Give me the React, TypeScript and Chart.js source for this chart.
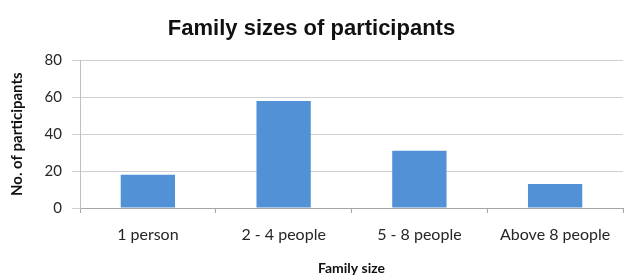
import React, { useEffect, useRef } from "react";
import { Chart, registerables } from "chart.js";

Chart.register(...registerables);

const categories = ["1 person", "2 - 4 people", "5 - 8 people", "Above 8 people"];
const participants = [18, 58, 31, 13];
const yTicks = [0, 20, 40, 60, 80];

const FONT = "Lato, 'Noto Sans', sans-serif";

export default function App() {
  const ref = useRef<HTMLCanvasElement | null>(null);
  useEffect(() => {
    document.body.style.margin = "0";
    const ctx = ref.current!;
    const chart = new Chart(ctx, {
      type: "bar",
      data: {
        labels: categories,
        datasets: [
          {
            label: "Participants",
            data: participants,
            backgroundColor: "#5291d5",
            borderWidth: 0,
            categoryPercentage: 1,
            barPercentage: 0.4,
          },
        ],
      },
      options: {
        animation: false,
        responsive: false,
        maintainAspectRatio: false,
        layout: { padding: { left: 0, right: 1, top: 0, bottom: 0 } },
        plugins: {
          legend: { display: false },
          tooltip: { enabled: false },
          title: {
            display: true,
            text: "Family sizes of participants",
            color: "#111111",
            font: { family: "'Liberation Sans', Arial, sans-serif", size: 22, weight: "bold" },
            padding: { top: 16, bottom: 18 },
          },
        },
        scales: {
          x: {
            grid: {
              display: true,
              drawOnChartArea: false,
              drawTicks: true,
              tickLength: 5,
              color: "#a6a6a6",
              offset: true,
            },
            border: { display: true, color: "#a6a6a6" },
            ticks: {
              color: "#262626",
              font: { family: FONT, size: 16 },
              padding: 12,
              maxRotation: 0,
              autoSkip: false,
            },
            title: {
              display: true,
              text: "Family size",
              color: "#111111",
              font: { family: FONT, size: 14, weight: "bold" },
              padding: { top: 0, bottom: 1 },
            },
            afterFit: (s: any) => {
              s.height = 70;
            },
          },
          y: {
            min: 0,
            max: 80,
            afterBuildTicks: (s: any) => {
              s.ticks = yTicks.map((v) => ({ value: v }));
            },
            grid: {
              color: "#d0d0d0",
              tickLength: 8,
              lineWidth: 1,
            },
            border: { display: true, color: "#c0c0c0" },
            ticks: {
              color: "#262626",
              font: { family: FONT, size: 15 },
              padding: 10,
            },
            title: {
              display: true,
              text: "No. of participants",
              color: "#111111",
              font: { family: FONT, size: 15, weight: "bold" },
              padding: { top: 8, bottom: 0 },
            },
            afterFit: (s: any) => {
              s.width = 80;
            },
          },
        },
      },
    });
    return () => chart.destroy();
  }, []);
  return (
    <div style={{ position: "absolute", left: 0, top: 0, width: 624, height: 278, background: "#fff" }}>
      <canvas ref={ref} width={624} height={278} style={{ width: 624, height: 278 }} />
    </div>
  );
}
